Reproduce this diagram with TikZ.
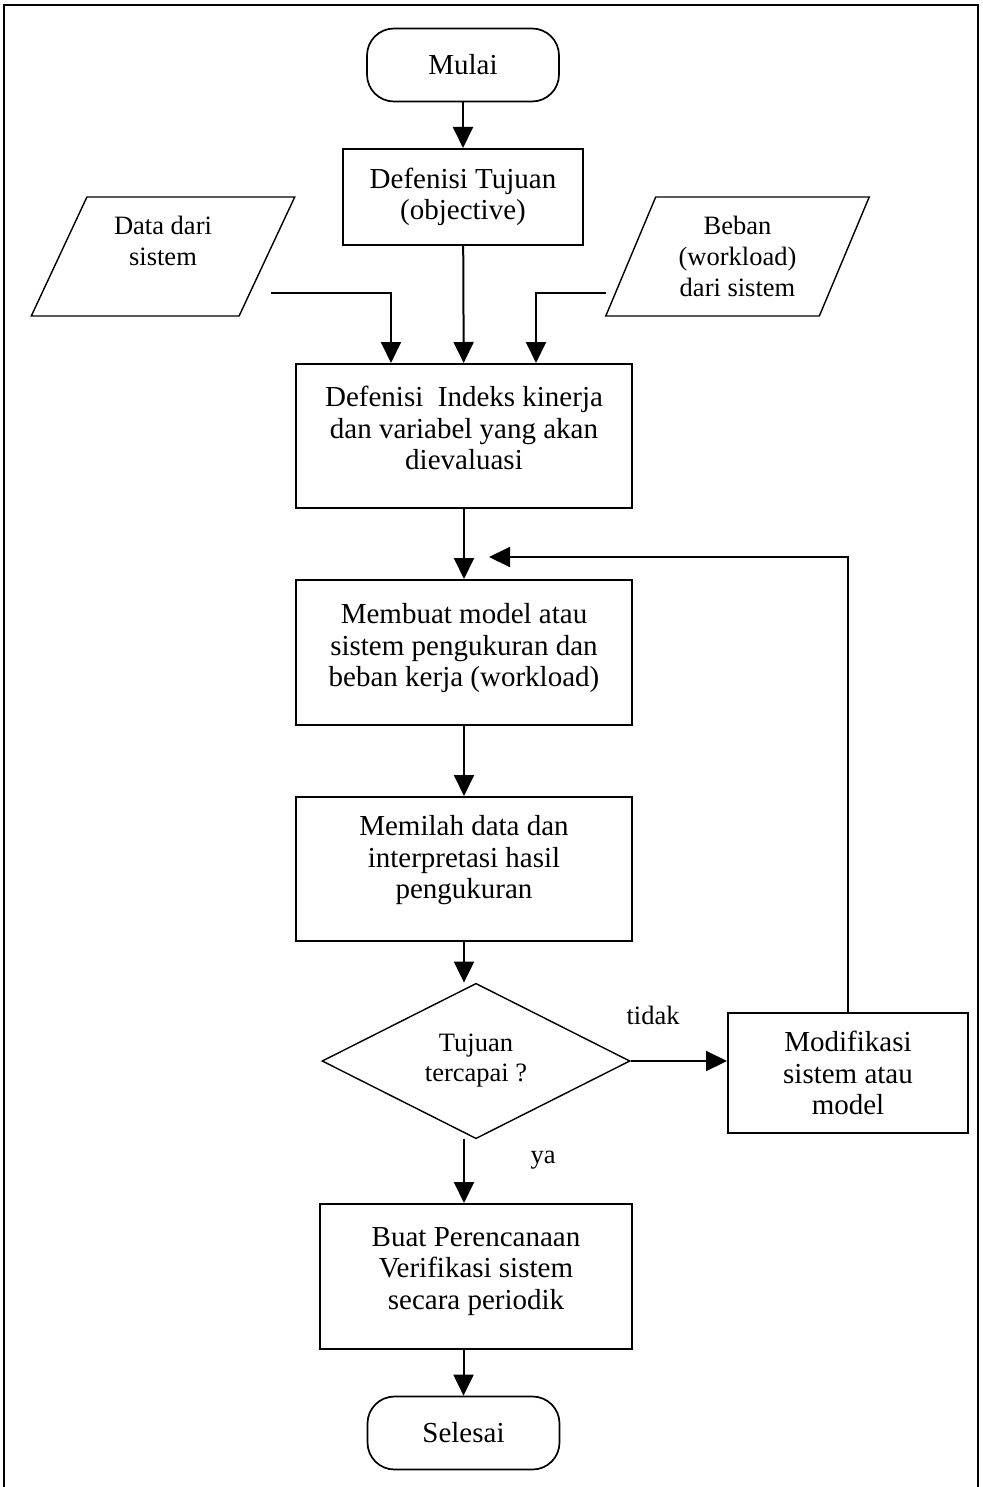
\documentclass[tikz,border=0pt]{standalone}
\usepackage{fontspec}
\setmainfont{Liberation Serif}
\usetikzlibrary{arrows.meta,shapes.geometric}
\newcommand\sink[1]{\rule[-#1pt]{0pt}{0pt}}
\tikzset{
  box/.style={draw,line width=2pt,minimum width=336pt,minimum height=144pt,
    align=center,inner sep=0pt,font=\fontsize{29}{31.5}\selectfont},
  term/.style={draw,line width=1.7pt,rounded corners=27pt,minimum width=192pt,
    minimum height=73pt,font=\fontsize{29}{31.5}\selectfont},
  io/.style={draw,line width=1.4pt,trapezium,trapezium left angle=66,
    trapezium right angle=114,trapezium stretches=true,minimum width=264pt,
    minimum height=119pt,align=center,inner sep=0pt,
    font=\fontsize{26.5}{31}\selectfont},
  dec/.style={draw,line width=1.4pt,diamond,minimum width=308pt,
    minimum height=144pt,inner sep=0pt,align=center,
    font=\fontsize{26.5}{30}\selectfont},
  lbl/.style={font=\fontsize{26.5}{30}\selectfont},
  flow/.style={line width=2pt,-{Triangle[length=21pt,width=20pt]}}
}
\begin{document}
\begin{tikzpicture}[x=1pt,y=-1pt]
  \useasboundingbox (0,0) rectangle (982,1487);
  \draw[line width=2pt] (4,1487) -- (4,5) -- (978,5) -- (978,1487);
  % shapes
  \node[term] (mulai) at (463,65) {Mulai};
  \node[box,minimum width=240pt,minimum height=96pt] (tujuan) at (463,197)
    {Defenisi Tujuan\\(objective)};
  \node[io] (data) at (163,256.5) {Data dari\\sistem\\~};
  \node[io] (beban) at (737.5,256.5) {Beban\\(workload)\\dari sistem};
  \node[box] (indeks) at (464,436)
    {Defenisi\ \ Indeks kinerja\\dan variabel yang akan\\dievaluasi\sink{16}};
  \node[box,minimum height=145pt] (model) at (464,652.5)
    {Membuat model atau\\sistem pengukuran dan\\beban kerja (workload)\sink{15}};
  \node[box] (memilah) at (464,869)
    {Memilah data dan\\interpretasi hasil\\pengukuran\sink{24}};
  \node[dec] (capai) at (476,1061) {Tujuan\\tercapai ?};
  \node[box,minimum width=240pt,minimum height=120pt] (modif) at (848,1073)
    {Modifikasi\\sistem atau\\model};
  \node[box,minimum width=312pt,minimum height=145pt] (buat) at (476,1276.5)
    {Buat Perencanaan\\Verifikasi sistem\\secara periodik\sink{17}};
  \node[term] (selesai) at (463.5,1433) {Selesai};
  \node[lbl] (tidak) at (653,1015) {tidak};
  \node[lbl] (ya) at (543,1160) {ya};
  % connectors
  \coordinate (datatail) at (271,293);
  \coordinate (bebantail) at (606,293);
  \coordinate (loopend) at (489,557);
  \draw[flow] (mulai) -- (tujuan);
  \draw[flow] (tujuan) -- (indeks);
  \draw[flow] (datatail) -| ([xshift=-73pt]indeks.north);
  \draw[flow] (bebantail) -| ([xshift=72pt]indeks.north);
  \draw[flow] (indeks) -- (model);
  \draw[flow] (modif.north) |- (loopend);
  \draw[flow] (model) -- (memilah);
  \draw[flow] (memilah.south) -- (memilah.south |- capai.north);
  \draw[flow] (capai.east) -- (capai.east -| modif.west);
  \draw[flow] (capai.south -| memilah.south) -- (buat.north -| memilah.south);
  \draw[flow] (buat.south -| selesai.north) -- (selesai.north);
\end{tikzpicture}
\end{document}
